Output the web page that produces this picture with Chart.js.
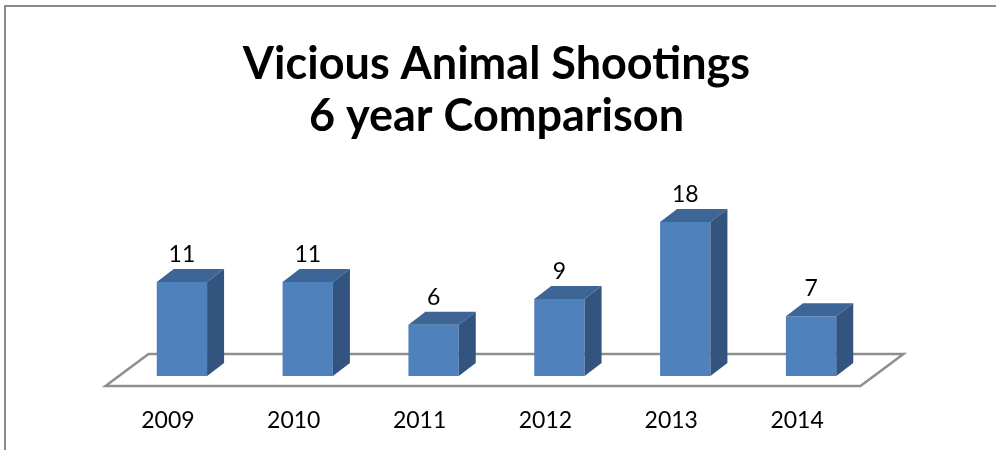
<!DOCTYPE html>
<html>
<head>
<meta charset="utf-8">
<script src="https://cdn.jsdelivr.net/npm/chart.js@4"></script>
<style>
  html, body { margin: 0; padding: 0; background: #fff; }
  #wrap { position: relative; width: 996px; height: 450px; }
  #frame { position: absolute; left: 4px; top: 5px; right: 0; bottom: 0;
           border-top: 2px solid #8a8a8a; border-left: 2px solid #8a8a8a; }
  canvas { position: absolute; left: 0; top: 0; }
</style>
</head>
<body>
<div id="wrap">
  <div id="frame"></div>
  <canvas id="chart" width="996" height="450"></canvas>
</div>
<script>
const years = ['2009', '2010', '2011', '2012', '2013', '2014'];
const shootings = [11, 11, 6, 9, 18, 7];
const titleLines = ['Vicious Animal Shootings', '6 year Comparison'];

// depth of the 3D bars
const BAR_DX = 17, BAR_DY = -13;
const FONT = 'Lato';

const box3d = {
  id: 'box3d',
  beforeDatasetsDraw(chart) {
    const { ctx, chartArea: a } = chart;
    // floor plane under the bars
    ctx.save();
    ctx.strokeStyle = '#8e8e8e';
    ctx.lineWidth = 2.5;
    ctx.beginPath();
    ctx.moveTo(a.left - 13.5, a.bottom + 10);
    ctx.lineTo(a.right - 13.5, a.bottom + 10);
    ctx.lineTo(a.right + 29.5, a.bottom - 22);
    ctx.lineTo(a.left + 29.5, a.bottom - 22);
    ctx.closePath();
    ctx.stroke();
    ctx.restore();
  },
  afterDatasetsDraw(chart) {
    const { ctx } = chart;
    const meta = chart.getDatasetMeta(0);
    ctx.save();
    meta.data.forEach((bar, i) => {
      const l = bar.x - bar.width / 2, r = bar.x + bar.width / 2;
      const t = bar.y, b = bar.base;
      // top face
      ctx.fillStyle = '#3d6595';
      ctx.beginPath();
      ctx.moveTo(l, t);
      ctx.lineTo(l + BAR_DX, t + BAR_DY);
      ctx.lineTo(r + BAR_DX, t + BAR_DY);
      ctx.lineTo(r, t);
      ctx.closePath();
      ctx.fill();
      // side face
      ctx.fillStyle = '#32547f';
      ctx.beginPath();
      ctx.moveTo(r, t);
      ctx.lineTo(r + BAR_DX, t + BAR_DY);
      ctx.lineTo(r + BAR_DX, b + BAR_DY);
      ctx.lineTo(r, b);
      ctx.closePath();
      ctx.fill();
      // value label
      ctx.fillStyle = '#000';
      ctx.font = '23px ' + FONT;
      ctx.textAlign = 'center';
      ctx.textBaseline = 'alphabetic';
      ctx.fillText(String(shootings[i]), bar.x, t - 20);
    });
    ctx.restore();
  }
};

new Chart(document.getElementById('chart'), {
  type: 'bar',
  data: {
    labels: years,
    datasets: [{
      label: 'Shootings',
      data: shootings,
      backgroundColor: '#4f81bd',
      borderWidth: 0,
      barPercentage: 0.4,
      categoryPercentage: 1
    }]
  },
  options: {
    responsive: false,
    animation: false,
    layout: { padding: { left: 119, right: 122, top: 0, bottom: 0 } },
    plugins: {
      legend: { display: false },
      tooltip: { enabled: false },
      title: {
        display: true,
        text: titleLines,
        color: '#000',
        font: { family: FONT, size: 45, weight: 'bold', lineHeight: '52px' },
        padding: { top: 38, bottom: 63 }
      }
    },
    scales: {
      x: {
        grid: { display: false, drawTicks: false },
        border: { display: false },
        ticks: { color: '#000', font: { family: FONT, size: 23 }, padding: 31, labelOffset: -14 },
        afterFit: (scale) => { scale.height = 74; }
      },
      y: {
        display: false,
        min: 0,
        max: 20
      }
    }
  },
  plugins: [box3d]
});
</script>
</body>
</html>
